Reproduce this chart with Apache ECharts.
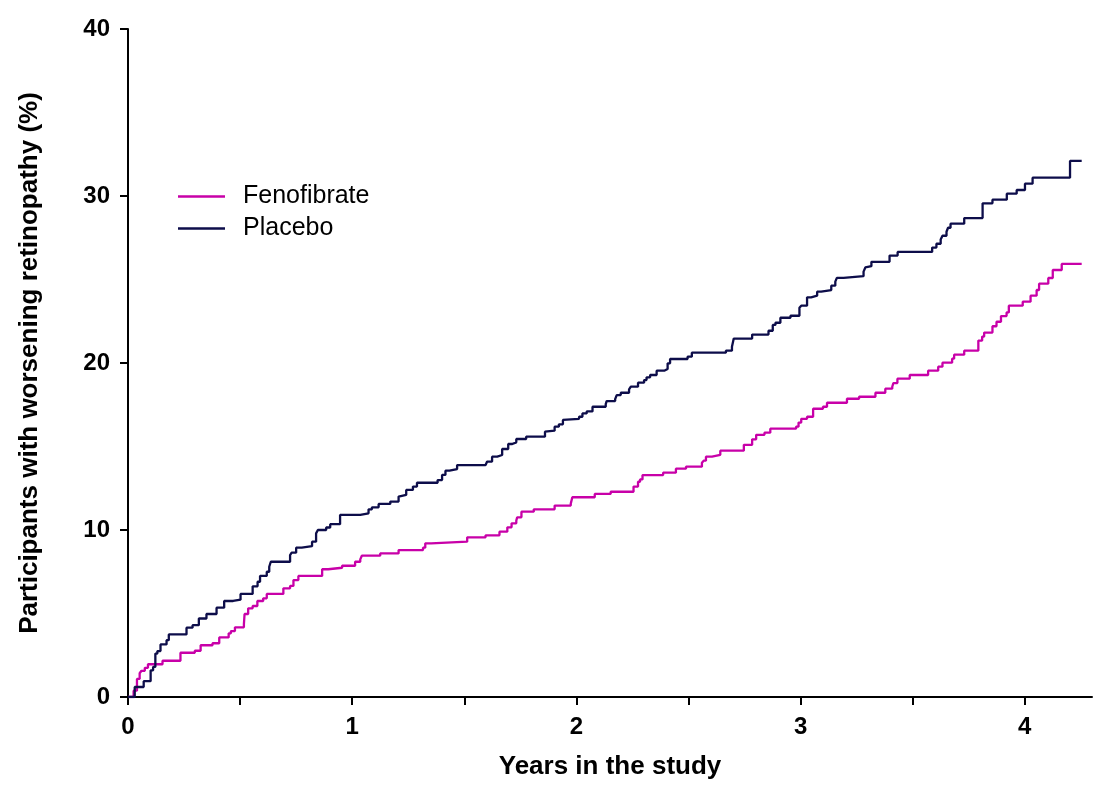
<!DOCTYPE html>
<html>
<head>
<meta charset="utf-8">
<script src="https://cdn.jsdelivr.net/npm/echarts@6/dist/echarts.min.js"></script>
<style>
html,body{margin:0;padding:0;background:#fff;}
#chart{width:1110px;height:795px;}
</style>
</head>
<body>
<div id="chart"></div>
<script>
// Fenofibrate: event times (years) and cumulative % after each step
const fenoTimes = [0, 0.025, 0.040, 0.052, 0.060, 0.075, 0.089, 0.154, 0.234, 0.298, 0.324, 0.377, 0.407, 0.449, 0.459, 0.477, 0.517, 0.520, 0.536, 0.556, 0.577, 0.603, 0.619, 0.693, 0.723, 0.738, 0.760, 0.866, 0.893, 0.955, 1.013, 1.036, 1.043, 1.125, 1.207, 1.316, 1.326, 1.352, 1.513, 1.595, 1.657, 1.692, 1.711, 1.732, 1.736, 1.755, 1.810, 1.903, 1.975, 1.982, 2.082, 2.153, 2.255, 2.275, 2.284, 2.295, 2.387, 2.444, 2.489, 2.560, 2.568, 2.578, 2.605, 2.642, 2.747, 2.784, 2.802, 2.839, 2.865, 2.980, 2.991, 3.003, 3.029, 3.056, 3.100, 3.118, 3.207, 3.261, 3.334, 3.378, 3.409, 3.414, 3.432, 3.487, 3.569, 3.614, 3.633, 3.676, 3.685, 3.730, 3.793, 3.810, 3.819, 3.856, 3.874, 3.894, 3.919, 3.929, 3.991, 4.026, 4.053, 4.064, 4.105, 4.125, 4.165, 4.254];
const fenoValues = [0, 0.38, 1.08, 1.42, 1.57, 1.75, 1.96, 2.17, 2.65, 2.77, 3.10, 3.22, 3.57, 3.81, 3.95, 4.17, 4.37, 4.97, 5.31, 5.45, 5.75, 5.91, 6.17, 6.51, 6.65, 7.00, 7.25, 7.65, 7.74, 7.86, 8.10, 8.24, 8.46, 8.60, 8.80, 8.94, 9.20, 9.30, 9.56, 9.68, 9.90, 10.16, 10.40, 10.56, 10.76, 11.10, 11.24, 11.46, 11.58, 11.96, 12.16, 12.29, 12.60, 12.89, 13.03, 13.29, 13.43, 13.67, 13.79, 14.03, 14.15, 14.39, 14.50, 14.75, 15.10, 15.43, 15.70, 15.83, 16.07, 16.19, 16.43, 16.66, 16.78, 17.26, 17.38, 17.62, 17.86, 17.98, 18.22, 18.46, 18.58, 18.80, 19.06, 19.28, 19.54, 19.78, 20.02, 20.26, 20.50, 20.74, 21.34, 21.58, 21.82, 22.20, 22.47, 22.81, 23.03, 23.43, 23.67, 24.03, 24.37, 24.75, 25.09, 25.57, 25.93, 25.93];

// Placebo
const placeboTimes = [0, 0.030, 0.070, 0.101, 0.112, 0.122, 0.131, 0.145, 0.172, 0.182, 0.261, 0.288, 0.316, 0.350, 0.395, 0.429, 0.469, 0.502, 0.556, 0.578, 0.589, 0.619, 0.630, 0.637, 0.723, 0.730, 0.750, 0.775, 0.821, 0.839, 0.847, 0.884, 0.902, 0.946, 1.036, 1.073, 1.088, 1.118, 1.170, 1.207, 1.215, 1.241, 1.271, 1.289, 1.381, 1.401, 1.416, 1.434, 1.468, 1.595, 1.602, 1.624, 1.647, 1.669, 1.696, 1.714, 1.732, 1.776, 1.860, 1.866, 1.903, 1.922, 1.940, 1.948, 2.012, 2.027, 2.046, 2.072, 2.131, 2.135, 2.173, 2.180, 2.198, 2.235, 2.243, 2.275, 2.302, 2.313, 2.329, 2.358, 2.392, 2.407, 2.418, 2.496, 2.515, 2.667, 2.694, 2.702, 2.784, 2.857, 2.876, 2.888, 2.910, 2.955, 2.995, 3.003, 3.029, 3.047, 3.074, 3.092, 3.137, 3.155, 3.162, 3.192, 3.281, 3.289, 3.296, 3.316, 3.397, 3.433, 3.587, 3.606, 3.625, 3.633, 3.651, 3.658, 3.669, 3.730, 3.812, 3.856, 3.920, 3.964, 4.001, 4.035, 4.202, 4.254];
const placeboValues = [0, 0.60, 0.95, 1.60, 1.80, 2.60, 2.75, 3.15, 3.40, 3.75, 4.15, 4.30, 4.70, 4.97, 5.35, 5.75, 5.83, 6.17, 6.63, 6.90, 7.25, 7.50, 7.80, 8.10, 8.50, 8.64, 8.94, 9.03, 9.30, 9.80, 10.00, 10.15, 10.35, 10.90, 11.00, 11.24, 11.36, 11.56, 11.70, 12.00, 12.10, 12.40, 12.60, 12.83, 12.99, 13.30, 13.55, 13.65, 13.89, 13.98, 14.10, 14.39, 14.49, 14.85, 15.15, 15.25, 15.45, 15.59, 15.89, 15.95, 16.19, 16.33, 16.59, 16.66, 16.78, 16.98, 17.10, 17.38, 17.54, 17.72, 17.84, 18.08, 18.22, 18.42, 18.58, 18.82, 18.98, 19.14, 19.28, 19.54, 19.64, 19.98, 20.24, 20.38, 20.62, 20.74, 20.98, 21.46, 21.70, 21.93, 22.28, 22.41, 22.71, 22.83, 23.31, 23.43, 23.93, 24.03, 24.27, 24.37, 24.63, 24.87, 25.10, 25.20, 25.47, 25.72, 25.80, 26.06, 26.43, 26.65, 26.91, 27.14, 27.40, 27.62, 27.86, 28.10, 28.34, 28.68, 29.56, 29.78, 30.14, 30.36, 30.74, 31.10, 32.10, 32.10];

const xTickValues = [0, 0.5, 1, 1.5, 2, 2.5, 3, 3.5, 4];
const xLabelValues = [0, 1, 2, 3, 4];
const yTickValues = [0, 10, 20, 30, 40];

const seriesNames = ['Fenofibrate', 'Placebo'];
const xTitle = 'Years in the study';
const yTitle = 'Participants with worsening retinopathy (%)';

const zip = (a, b) => a.map((t, i) => [t, b[i]]);

const FONT = '"Liberation Sans", Arial, sans-serif';
const axisCommon = {
  axisLine: { show: true, lineStyle: { color: '#000', width: 2 } },
  axisTick: { show: true, inside: false, length: 8, lineStyle: { color: '#000', width: 2 } },
  splitLine: { show: false },
  nameTextStyle: { color: '#000', fontFamily: FONT, fontWeight: 'bold', fontSize: 26 }
};

const chart = echarts.init(document.getElementById('chart'), null, { renderer: 'canvas' });
chart.setOption({
  animation: false,
  backgroundColor: '#fff',
  grid: { left: 128, right: 18, top: 29, bottom: 98, containLabel: false },
  legend: {
    orient: 'vertical',
    left: 173,
    top: 179,
    itemWidth: 47,
    itemHeight: 2.4,
    itemGap: 7,
    icon: 'rect',
    textStyle: { color: '#000', fontFamily: FONT, fontSize: 25, lineHeight: 25, padding: [0, 0, 0, 13] },
    data: seriesNames
  },
  xAxis: Object.assign({}, axisCommon, {
    type: 'value',
    min: 0,
    max: 4.3,
    name: xTitle,
    nameLocation: 'middle',
    nameGap: 57,
    axisTick: Object.assign({}, axisCommon.axisTick, { customValues: xTickValues }),
    axisLabel: { customValues: xLabelValues, margin: 18, color: '#000', fontFamily: FONT, fontWeight: 'bold', fontSize: 24 }
  }),
  yAxis: Object.assign({}, axisCommon, {
    type: 'value',
    min: 0,
    max: 40,
    interval: 10,
    name: yTitle,
    nameLocation: 'middle',
    nameRotate: 90,
    nameGap: 85,
    axisTick: Object.assign({}, axisCommon.axisTick, { customValues: yTickValues }),
    axisLabel: { customValues: yTickValues, margin: 18, color: '#000', fontFamily: FONT, fontWeight: 'bold', fontSize: 24 }
  }),
  series: [
    {
      name: seriesNames[0],
      type: 'line',
      step: 'end',
      showSymbol: false,
      symbol: 'none',
      color: '#C800A8',
      lineStyle: { color: '#C800A8', width: 2.3 },
      data: zip(fenoTimes, fenoValues)
    },
    {
      name: seriesNames[1],
      type: 'line',
      step: 'end',
      showSymbol: false,
      symbol: 'none',
      color: '#0D0D4A',
      lineStyle: { color: '#0D0D4A', width: 2.3 },
      data: zip(placeboTimes, placeboValues)
    }
  ]
});
</script>
</body>
</html>
